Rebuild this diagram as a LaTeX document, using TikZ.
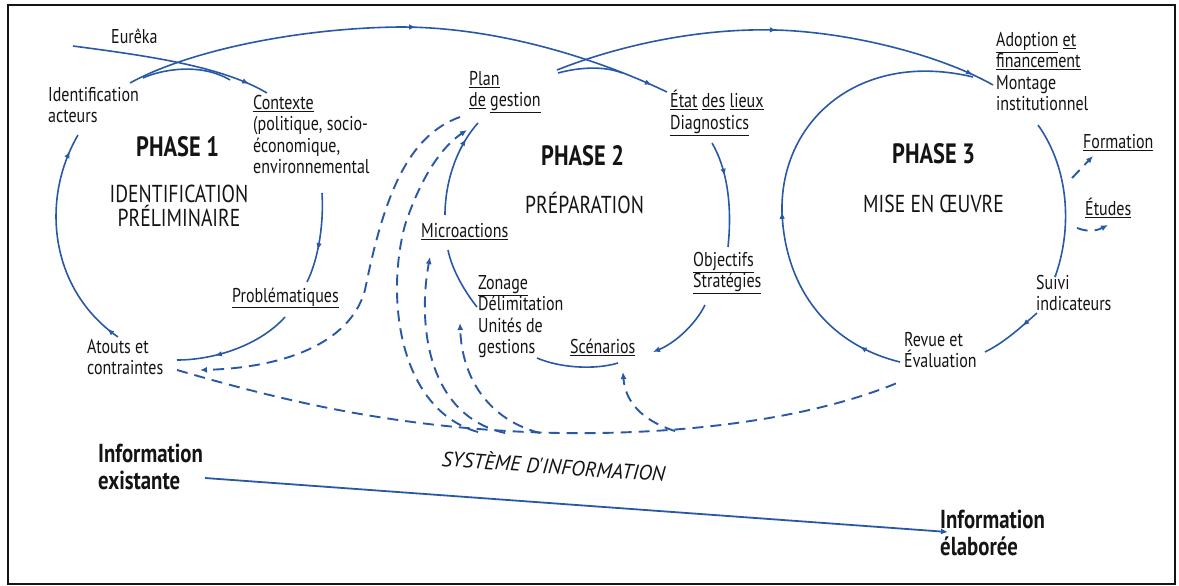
\documentclass[tikz,border=0pt]{standalone}
\usepackage{fontspec}
\setmainfont{PT Sans}[FakeStretch=0.8]
\newfontfamily\sysfont{PT Sans}[FakeStretch=0.98]
\usetikzlibrary{arrows.meta,decorations.markings}
\definecolor{lb}{RGB}{40,88,166}
\definecolor{ink}{RGB}{20,20,20}
\newcommand{\ul}[1]{\underline{#1}}
\begin{document}
\begin{tikzpicture}[x=1pt,y=-1pt,
  lab/.style={font=\fontsize{20}{21.5}\selectfont,text=ink,inner sep=0pt,align=left,anchor=north west,execute at begin node={\rule{0pt}{18pt}}},
  phase/.style={font=\fontsize{28}{30}\selectfont\bfseries,text=ink,inner sep=0pt},
  sub/.style={font=\fontsize{24.5}{24}\selectfont,text=ink,inner sep=0pt,align=center,anchor=north,execute at begin node={\rule{0pt}{20pt}}},
  info/.style={font=\fontsize{26}{27}\selectfont\bfseries,text=ink,inner sep=0pt,align=left,anchor=north west,execute at begin node={\rule{0pt}{22pt}}},
  sys/.style={font=\sysfont\fontsize{21}{22}\selectfont\itshape,text=ink,inner sep=0pt,anchor=base,rotate=-4},
  sl/.style={draw=lb,line width=1.6pt},
  dl/.style={draw=lb,line width=1.9pt,dash pattern=on 11pt off 7pt},
  tip/.style={-{Latex[length=7pt,width=6pt]}},
  marr/.style={postaction={decorate,decoration={markings,mark=at position #1 with {\arrow{Latex[length=7pt,width=5.5pt]}}}}}
]
\useasboundingbox (0,0) rectangle (1179,586);
\draw[line width=2.4pt,ink] (8,5) rectangle (1175,584);

% ---------- labels ----------
\node[lab] (eureka) at (111,25) {Eurêka};
\node[lab] (ident) at (48,87) {Identification\\acteurs};
\node[lab] (ctx) at (253,95) {\ul{Contexte}\\(politique, socio-\\économique,\\environnemental};
\node[lab] (prob) at (232,284) {\ul{Problématiques}};
\node[lab] (atouts) at (87,339) {Atouts et\\contraintes};
\node[phase,anchor=base west] (ph1) at (136,157) {PHASE 1};
\node[sub] (ph1t) at (179,185) {IDENTIFICATION\\PRÉLIMINAIRE};

\node[lab] (plan) at (469,71) {\ul{Plan}\\\ul{de} \ul{gestion}};
\node[phase,anchor=base west] (ph2) at (541,165) {PHASE 2};
\node[sub,anchor=base west] (ph2t) at (525,213) {PRÉPARATION};
\node[lab] (micro) at (421,219) {\ul{Microactions}};
\node[lab] (zon) at (478,275) {\ul{Zonage}\\Délimitation\\Unités de\\gestions};
\node[lab] (scen) at (570,335) {\ul{Scénarios}};
\node[lab] (obj) at (693,252) {\ul{Objectifs}\\\ul{Stratégies}};
\node[lab] (etat) at (670,90) {\ul{État} \ul{des} \ul{lieux}\\\ul{Diagnostics}};

\node[lab] (adopt) at (996,32) {\ul{Adoption} \ul{et}\\\ul{financement}\\Montage\\institutionnel};
\node[phase,anchor=base west] (ph3) at (892,163) {PHASE 3};
\node[sub,anchor=base west] (ph3t) at (863,212) {MISE EN ŒUVRE};
\node[lab] (form) at (1083,130) {\ul{Formation}};
\node[lab] (etud) at (1085,197) {\ul{Études}};
\node[lab] (suivi) at (1036,275) {Suivi\\indicateurs};
\node[lab] (revue) at (904,332) {Revue et\\Évaluation};

\node[info] (iex) at (98,444) {Information\\existante};
\node[info] (iel) at (940,510) {Information\\élaborée};
\node[sys] (si) at (553,474) {SYSTÈME D'INFORMATION};

% ---------- connector end points ----------
\coordinate (identR) at (130,83);
\coordinate (identR2) at (143,78);
\coordinate (topA) at (400,27);
\coordinate (etatL) at (667,92);
\coordinate (eurL) at (73,46);
\coordinate (ctxT) at (267,93);
\coordinate (ctxB) at (322,193);
\coordinate (probT) at (307,282);
\coordinate (probB) at (285,317);
\coordinate (atoutsR) at (177,360);
\coordinate (atoutsT) at (118,337);
\coordinate (identB) at (78,135);
\coordinate (planR) at (557,70);
\coordinate (planR2) at (558,73);
\coordinate (topB) at (775,30);
\coordinate (adoptL) at (993,85);
\coordinate (etatB) at (712,143);
\coordinate (objT) at (728,247);
\coordinate (objB) at (705,305);
\coordinate (scenR) at (653,352);
\coordinate (scenB) at (618,363);
\coordinate (zonB) at (537,358);
\coordinate (zonL) at (477,307);
\coordinate (microB) at (448,250);
\coordinate (microT) at (445,215);
\coordinate (planB) at (478,123);
\coordinate (instB) at (1038,125);
\coordinate (suiviT) at (1055,277);
\coordinate (suiviL) at (1037,313);
\coordinate (revueR) at (985,352);
\coordinate (revueL) at (900,362);
\coordinate (arcL) at (782,212);
\coordinate (adoptJ) at (973,77);
\coordinate (iexR) at (205,478);
\coordinate (ielL) at (948,532);

% ---------- solid cycle ----------
\draw[sl,marr=0.53,marr=0.97] (identR) .. controls (190,50) and (300,28) .. (topA) .. controls (500,27) and (600,60) .. (etatL);
\draw[sl] (identR2) .. controls (160,70) and (200,62) .. (230,80);
\draw[sl,marr=0.9] (eurL) .. controls (140,55) and (220,65) .. (ctxT);
\draw[sl,marr=0.63] (ctxB) .. controls (324,225) and (318,260) .. (probT);
\draw[sl,marr=0.68] (probB) .. controls (260,345) and (215,360) .. (atoutsR);
\draw[sl,marr=0.06,marr=0.92] (atoutsT) .. controls (50,290) and (40,200) .. (identB);

\draw[sl,marr=0.5,marr=0.95] (planR) .. controls (620,45) and (700,28) .. (topB) .. controls (850,32) and (940,55) .. (adoptL);
\draw[sl] (planR2) .. controls (580,67) and (605,66) .. (622,73);
\draw[sl,marr=0.33] (etatB) .. controls (725,165) and (733,200) .. (objT);
\draw[sl,tip] (objB) .. controls (695,325) and (675,343) .. (scenR);
\draw[sl] (scenB) .. controls (595,370) and (560,368) .. (zonB);
\draw[sl] (zonL) .. controls (465,292) and (452,270) .. (microB);
\draw[sl,marr=0.8] (microT) .. controls (445,180) and (458,145) .. (planB);

\draw[sl] (instB) .. controls (1070,170) and (1072,230) .. (suiviT);
\draw[sl,marr=0.3] (suiviL) .. controls (1020,328) and (1005,342) .. (revueR);
\draw[sl,marr=0.09,marr=0.43] (revueL) .. controls (830,345) and (785,290) .. (arcL) .. controls (780,120) and (860,50) .. (adoptJ);

\draw[sl,line width=1.8pt,tip] (iexR) -- (ielL);

% ---------- dashed information links ----------
\coordinate (atoutsD) at (177,370);
\coordinate (baseM) at (560,433);
\coordinate (revueD) at (897,383);
\coordinate (planD) at (460,117);
\coordinate (atoutsA) at (200,370);
\coordinate (planA) at (467,130);
\coordinate (microA) at (430,257);
\coordinate (zonA) at (460,323);
\coordinate (scenA) at (623,372);
\coordinate (b1) at (478,432);
\coordinate (b2) at (505,433);
\coordinate (b3) at (540,433);
\coordinate (b4) at (675,431);
\coordinate (p3f) at (1072,178);
\coordinate (formA) at (1093,156);
\coordinate (p3e) at (1077,228);
\coordinate (etudA) at (1108,225);

\draw[dl] (atoutsD) .. controls (280,400) and (400,430) .. (baseM) .. controls (700,435) and (820,415) .. (revueD);
\draw[dl,tip] (planD) .. controls (410,135) and (385,190) .. (365,290) .. controls (350,345) and (280,368) .. (atoutsA);
\draw[dl,tip] (b1) .. controls (400,410) and (385,300) .. (405,225) .. controls (420,180) and (440,148) .. (planA);
\draw[dl,tip] (b2) .. controls (425,415) and (418,320) .. (microA);
\draw[dl,tip] (b3) .. controls (490,420) and (462,380) .. (zonA);
\draw[dl,tip] (b4) .. controls (640,420) and (625,400) .. (scenA);
\draw[dl,tip] (p3f) -- (formA);
\draw[dl,tip] (p3e) .. controls (1090,233) and (1098,230) .. (etudA);
\end{tikzpicture}
\end{document}
